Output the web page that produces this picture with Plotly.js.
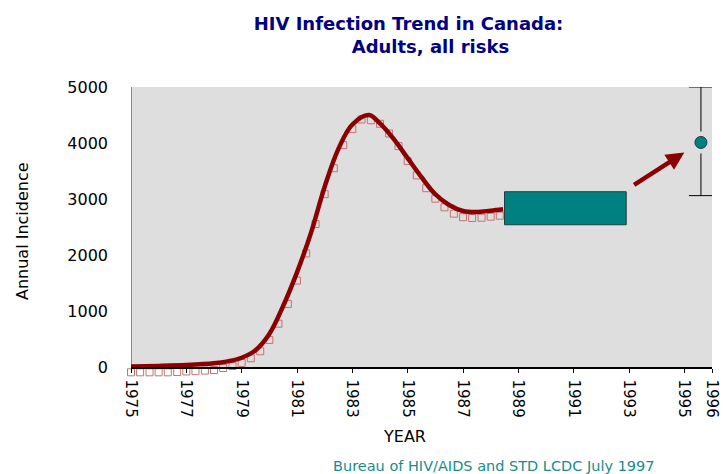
<!DOCTYPE html>
<html>
<head>
<meta charset="utf-8">
<script src="https://cdn.plot.ly/plotly-3.0.1.min.js"></script>
<style>
  html, body { margin: 0; padding: 0; background: #ffffff; }
  #chart { width: 723px; height: 474px; }
</style>
</head>
<body>
<div id="chart"></div>
<script>
// Observed annual incidence (hollow squares), sampled every four months
const obsYears = [
  1975.00, 1975.33, 1975.67, 1976.00, 1976.33, 1976.67, 1977.00, 1977.33, 1977.67,
  1978.00, 1978.33, 1978.67, 1979.00, 1979.33, 1979.67, 1980.00, 1980.33, 1980.67,
  1981.00, 1981.33, 1981.67, 1982.00, 1982.33, 1982.67, 1983.00, 1983.33, 1983.67,
  1984.00, 1984.33, 1984.67, 1985.00, 1985.33, 1985.67, 1986.00, 1986.33, 1986.67,
  1987.00, 1987.33, 1987.67, 1988.00, 1988.33
];
const obsIncidence = [
  -95, -95, -95, -95, -95, -90, -80, -75, -64,
  -54, -18, 18, 72, 156, 281, 483, 773, 1126,
  1543, 2029, 2554, 3087, 3550, 3962, 4248, 4420, 4406,
  4343, 4170, 3944, 3676, 3422, 3193, 3006, 2852, 2738,
  2674, 2661, 2666, 2684, 2702
];

// Fitted trend curve
const fitYears = [
  1975, 1976, 1977, 1978, 1978.5, 1979, 1979.5, 1980, 1980.5, 1981, 1981.5,
  1982, 1982.5, 1983, 1983.6, 1984, 1984.5, 1985, 1985.5, 1986, 1986.5,
  1987, 1987.5, 1988, 1988.45
];
const fitIncidence = [
  10, 20, 35, 65, 100, 165, 300, 590, 1090, 1690, 2387,
  3220, 3900, 4330, 4500, 4350, 4069, 3729, 3389, 3085, 2894,
  2786, 2768, 2792, 2817
];

// Projected range for the early 1990s (teal block)
const rangeYears = [1988.5, 1992.9];
const rangeIncidence = [2540, 3130];

// 1996 estimate with its uncertainty interval
const estYear = [1995.6];
const estIncidence = [4010];
const estUpper = [5000];
const estLower = [3060];

// Trend arrow: tail and head
const arrowYears = [1993.13, 1995.0];
const arrowIncidence = [3234, 3830];

// Axis extents and labels
const yearSpan = [1975, 1996];
const incidenceSpan = [0, 5000];
const yearTicks = [1975, 1977, 1979, 1981, 1983, 1985, 1987, 1989, 1991, 1993, 1995, 1996];
const yearTickText = yearTicks.map(String);
const incidenceTicks = [0, 1000, 2000, 3000, 4000, 5000];

const FONT = 'DejaVu Sans, Arial, sans-serif';
const TEAL = '#008080';
const MAROON = '#8b0000';
const PANEL = '#dedede';
const nb = '\u00a0';

// small room below zero so the low squares can sit under the baseline
const yBottom = -125;
const baselinePos = (incidenceSpan[0] - yBottom) / (incidenceSpan[1] - yBottom);

const traces = [
  {
    type: 'scatter', mode: 'markers',
    x: obsYears, y: obsIncidence,
    marker: { symbol: 'square-open', size: 7, color: '#c07474', line: { width: 1 } },
    cliponaxis: false, hoverinfo: 'skip', showlegend: false
  },
  {
    type: 'scatter', mode: 'lines',
    x: fitYears, y: fitIncidence,
    line: { color: MAROON, width: 4.5, shape: 'spline', smoothing: 1 },
    cliponaxis: false, hoverinfo: 'skip', showlegend: false
  },
  {
    type: 'scatter', mode: 'lines',
    x: [rangeYears[0], rangeYears[1], rangeYears[1], rangeYears[0], rangeYears[0]],
    y: [rangeIncidence[0], rangeIncidence[0], rangeIncidence[1], rangeIncidence[1], rangeIncidence[0]],
    fill: 'toself', fillcolor: TEAL,
    line: { color: '#1f3f3f', width: 1 },
    hoverinfo: 'skip', showlegend: false
  },
  {
    // whisker, with a panel-coloured halo that opens a gap around the point
    type: 'scatter', mode: 'markers',
    x: estYear, y: estIncidence,
    marker: { size: 22, color: PANEL, line: { width: 0 } },
    error_y: {
      type: 'data', symmetric: false,
      array: estUpper.map((u, i) => u - estIncidence[i]),
      arrayminus: estLower.map((l, i) => estIncidence[i] - l),
      color: '#000000', thickness: 1, width: 12
    },
    cliponaxis: false, hoverinfo: 'skip', showlegend: false
  },
  {
    type: 'scatter', mode: 'markers',
    x: estYear, y: estIncidence,
    marker: { size: 12, color: TEAL, line: { color: '#1f3f3f', width: 1 } },
    cliponaxis: false, hoverinfo: 'skip', showlegend: false
  }
];

const layout = {
  width: 723, height: 474,
  margin: { l: 131, r: 11, t: 87, b: 100 },
  paper_bgcolor: '#ffffff',
  plot_bgcolor: '#ffffff',
  font: { family: FONT, color: '#000000', size: 16 },
  showlegend: false,
  title: {
    text: 'HIV Infection Trend in Canada:<br>' + nb.repeat(7) + 'Adults, all risks',
    font: { family: FONT, size: 18, color: '#000080', weight: 'bold' },
    xref: 'container', x: 0.565, xanchor: 'center',
    yref: 'container', y: 1 - 30 / 474, yanchor: 'middle'
  },
  xaxis: {
    range: yearSpan,
    anchor: 'free', position: baselinePos,
    tickmode: 'array', tickvals: yearTicks, ticktext: yearTickText,
    tickangle: 90,
    tickfont: { family: FONT, size: 15, color: '#000000' },
    ticks: 'outside', ticklen: 4, tickcolor: '#000000', tickwidth: 1,
    ticklabelstandoff: 4,
    showgrid: false, zeroline: false,
    showline: true, linecolor: '#000000', linewidth: 1.5,
    fixedrange: true
  },
  yaxis: {
    range: [yBottom, incidenceSpan[1]],
    tickmode: 'array', tickvals: incidenceTicks,
    tickfont: { family: FONT, size: 16, color: '#000000' },
    ticks: '', ticklabelstandoff: 22,
    showgrid: false, zeroline: false, showline: false,
    fixedrange: true
  },
  shapes: [
    {
      type: 'rect', layer: 'below',
      xref: 'x', yref: 'y',
      x0: yearSpan[0], x1: yearSpan[1], y0: incidenceSpan[0], y1: incidenceSpan[1],
      fillcolor: PANEL, line: { width: 0 }
    },
    {
      type: 'line', layer: 'below',
      xref: 'x', yref: 'y',
      x0: yearSpan[0], x1: yearSpan[0], y0: incidenceSpan[0], y1: incidenceSpan[1],
      line: { color: '#333333', width: 1 }
    }
  ],
  annotations: [
    {
      x: arrowYears[1], y: arrowIncidence[1],
      ax: arrowYears[0], ay: arrowIncidence[0],
      xref: 'x', yref: 'y', axref: 'x', ayref: 'y',
      text: '', showarrow: true,
      arrowhead: 2, arrowsize: 0.8, arrowwidth: 4.5, arrowcolor: MAROON
    },
    {
      text: 'Annual Incidence',
      xref: 'paper', yref: 'paper',
      x: (22 - 131) / 581, y: (374 - 231) / 287,
      textangle: -90,
      xanchor: 'center', yanchor: 'middle', showarrow: false,
      font: { family: FONT, size: 16, color: '#000000' }
    },
    {
      text: 'YEAR',
      xref: 'paper', yref: 'paper',
      x: (404 - 131) / 581, y: -(436 - 374) / 287,
      xanchor: 'center', yanchor: 'middle', showarrow: false,
      font: { family: FONT, size: 16, color: '#000000' }
    },
    {
      text: 'Bureau of HIV/AIDS and STD LCDC July 1997',
      xref: 'paper', yref: 'paper',
      x: (494 - 131) / 581, y: -(466 - 374) / 287,
      xanchor: 'center', yanchor: 'middle', showarrow: false,
      font: { family: FONT, size: 14.5, color: '#1a8c8c' }
    }
  ]
};

Plotly.newPlot('chart', traces, layout, { displayModeBar: false, staticPlot: true });
</script>
</body>
</html>
